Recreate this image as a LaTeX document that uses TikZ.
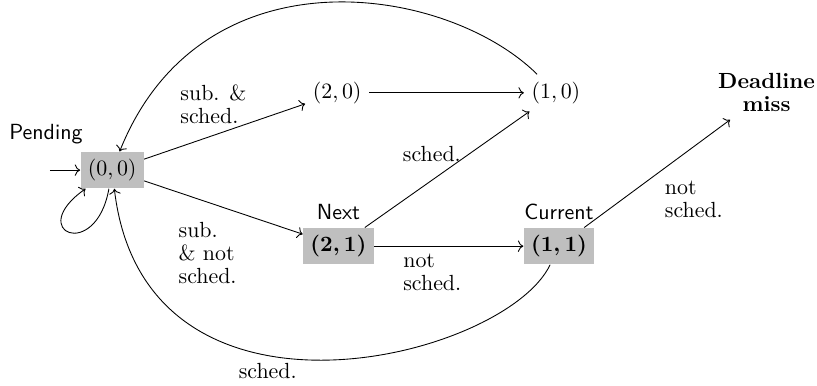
\documentclass[tikz,border=0pt]{standalone}
\usepackage{amsmath,amssymb}
\usepackage{tikz}
\usetikzlibrary{arrows.meta,positioning,calc}
\tikzset{statebox/.style={fill=gray!50,inner sep=3.3pt},statetext/.style={inner sep=3.3pt},lbl/.style={align=left,font=\fontsize{10}{10.5}\selectfont},tag/.style={font=\sffamily}}

\begin{document}
\begin{tikzpicture}
\useasboundingbox (0,0) rectangle (13.11,-6.18);
\node[statebox,label={[tag,xshift=-1.5pt]above left:Pending}] (s00) at (1.80,-2.73) {$(0,0)$};
\node[statetext] (s20) at (5.41,-1.49) {$(2,0)$};
\node[statetext] (s10) at (8.92,-1.49) {$(1,0)$};
\node[statebox,label={[tag]above:Next}] (s21) at (5.43,-3.95) {$\boldsymbol{(2,1)}$};
\node[statebox,label={[tag]above:Current}] (s11) at (8.97,-3.95) {$\boldsymbol{(1,1)}$};
\node[lbl,align=center] (miss) at (12.30,-1.49) {\textbf{Deadline}\\\textbf{miss}};
\coordinate (init) at (0.80,-2.73);
% transitions
\draw[->] (init) -- (s00);
\draw[->] (s00) -- node[lbl,above=2pt,pos=0.43] {sub. \&\\sched.} (s20);
\draw[->] (s20) -- (s10);
\draw[->] (s10) .. controls (7.16,0.25) and (3.23,0.85) .. (s00);
\draw[->] (s00) -- node[lbl,below=2mm,pos=0.4] {sub.\\\& not\\sched.} (s21);
\draw[->] (s21) -- node[lbl,left,pos=0.63] {sched.} (s10);
\draw[->] (s21) -- node[lbl,below,pos=0.39] {not\\sched.} (s11);
\draw[->] (s11) -- node[lbl,below right] {not\\sched.} (miss);
\draw[->] (s11) .. controls (8.10,-5.77) and (2.32,-7.21) .. node[lbl,below,pos=0.6] {sched.} (s00);
\draw[->] (s00) to[out=-100,in=-145,distance=12mm] (s00);
\end{tikzpicture}
\end{document}
